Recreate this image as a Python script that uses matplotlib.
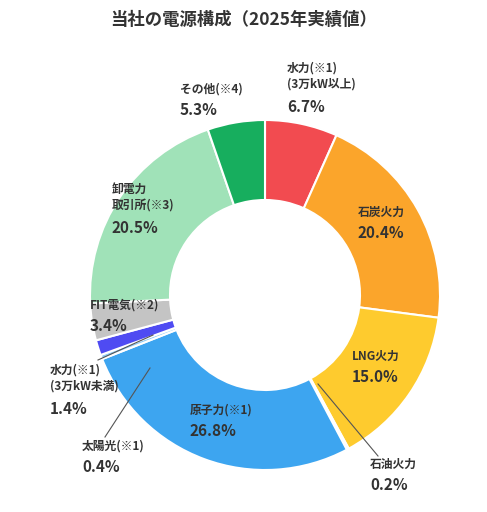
import matplotlib
matplotlib.use("Agg")
import matplotlib.pyplot as plt

plt.rcParams['font.family'] = ['Noto Sans CJK JP', 'DejaVu Sans']

names = ["水力(※1)\n(3万kW以上)", "石炭火力", "LNG火力", "石油火力", "原子力(※1)",
         "太陽光(※1)", "水力(※1)\n(3万kW未満)", "FIT電気(※2)", "卸電力\n取引所(※3)", "その他(※4)"]
values = [6.7, 20.4, 15.0, 0.2, 26.8, 0.4, 1.4, 3.4, 20.5, 5.3]
colors = ["#F24B50", "#FBA52B", "#FECB2E", "#FFE58A", "#3DA5F0",
          "#8FCBF5", "#4F4BF2", "#C4C4C4", "#A0E2B8", "#17AE5E"]
# label anchor (pixel coords, left x, top y)
label_pos = [(287, 62), (358, 206), (352, 350), (370, 458), (190, 404),
             (82, 440), (50, 364), (90, 299), (112, 183), (180, 83)]

W, H = 487, 512
cx, cy, R = 265, 295, 175
fig = plt.figure(figsize=(W/100, H/100), dpi=100)
ax = fig.add_axes([0, 0, 1, 1])
ax.pie(values, colors=colors, startangle=90, counterclock=False, radius=1,
       wedgeprops=dict(width=80/175, edgecolor="white", linewidth=1.5))
ax.set_xlim(-cx/R, (W-cx)/R)
ax.set_ylim(-(H-cy)/R, cy/R)
ax.set_aspect('auto')
ax.axis('off')

def P(px, py):
    return ((px-cx)/R, (cy-py)/R)

for name, v, (px, py) in zip(names, values, label_pos):
    x, y = P(px, py)
    ax.text(x, y, name, fontsize=8.5, fontweight='bold', color="#333333",
            va='top', ha='left', linespacing=1.25)
    nl = name.count("\n") + 1
    x2, y2 = P(px, py + 18*nl + 1)
    ax.text(x2, y2, f"{v:.1f}%", fontsize=11, fontweight='bold', color="#333333",
            va='top', ha='left')

# leader lines
for (a, b) in [((378, 456), (318, 384)), ((105, 437), (150, 368)), ((98, 360), (153, 335))]:
    p1, p2 = P(*a), P(*b)
    ax.plot([p1[0], p2[0]], [p1[1], p2[1]], color="#555555", lw=0.8)

fig.text(0.5, 1-20/H, "当社の電源構成（2025年実績値）", ha='center', va='center',
         fontsize=12.5, fontweight='bold', color="#333333")
fig.savefig("out.png", dpi=100)
